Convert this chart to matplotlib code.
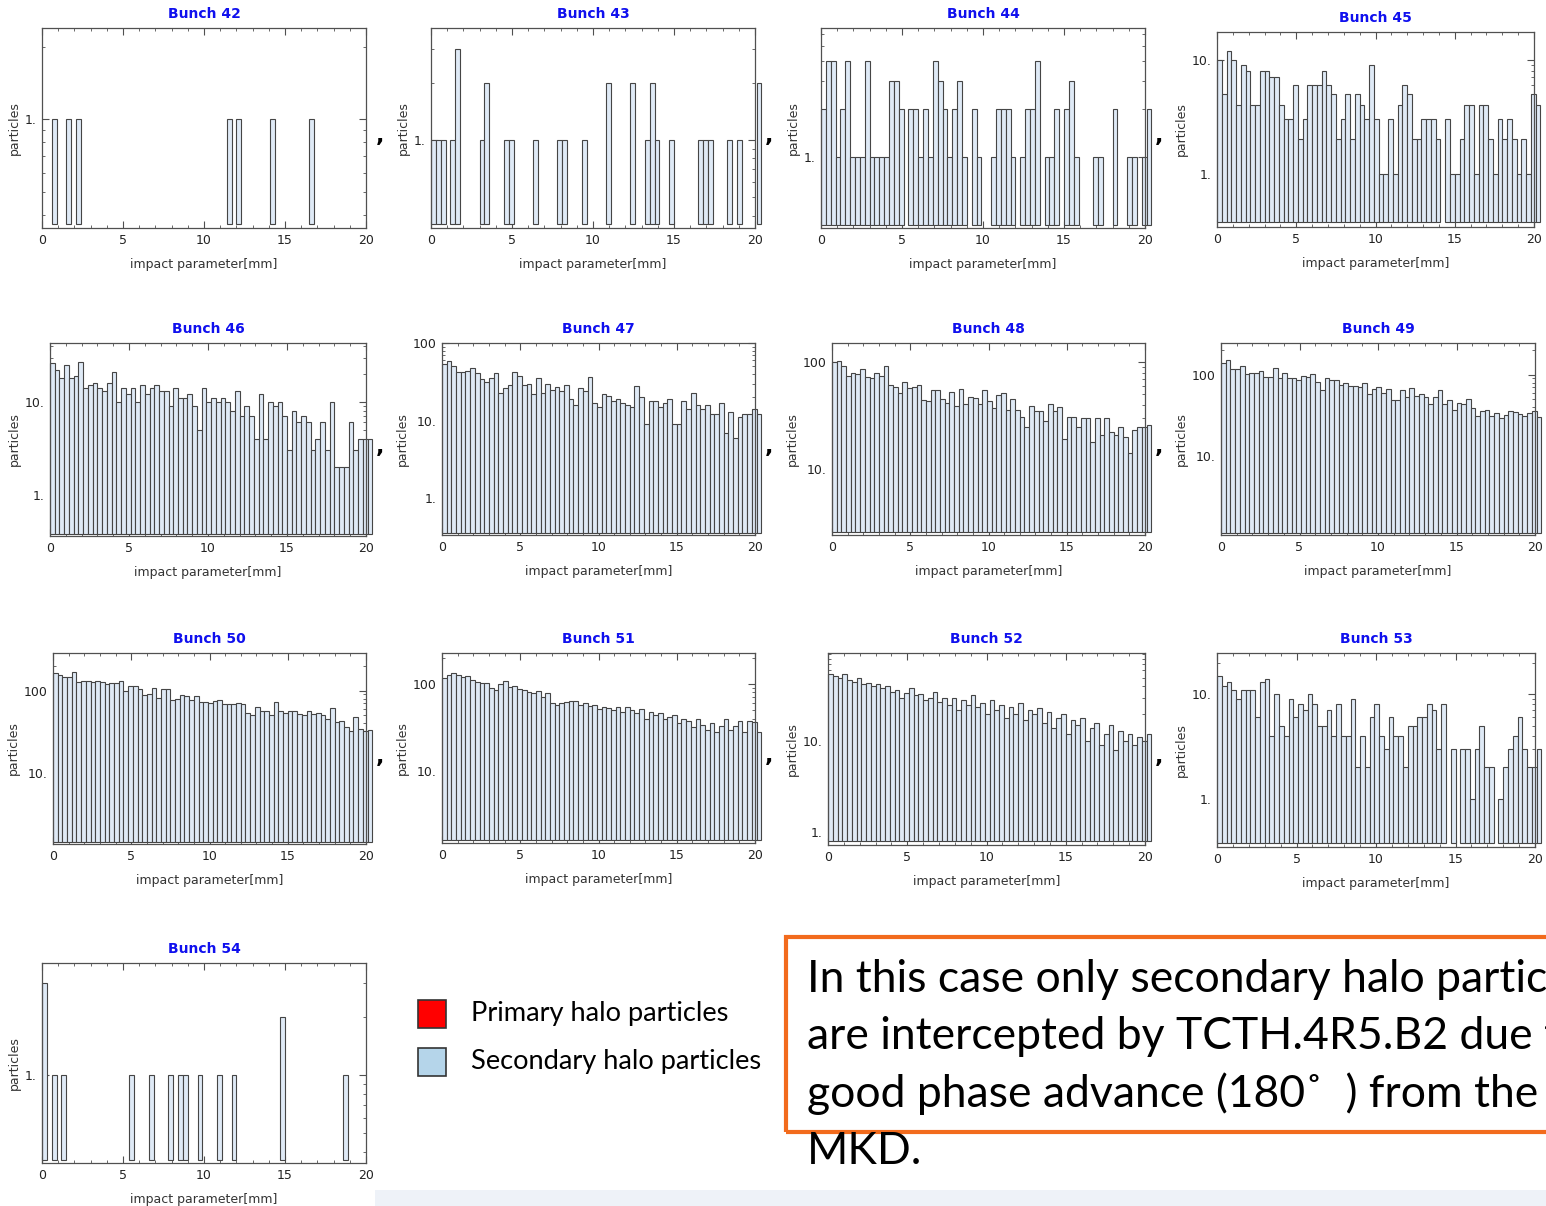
import numpy as np
import matplotlib
matplotlib.use("Agg")
import matplotlib.pyplot as plt
from matplotlib.patches import Rectangle
from matplotlib.ticker import FixedLocator, LogLocator, NullFormatter, FuncFormatter, MultipleLocator

W, H = 1546, 1206

# histogram bins: 0.3 mm wide, 0 .. 20.4 mm
bin_width = 0.3
n_bins = 68
edges = np.arange(n_bins + 1) * bin_width

bunches = [42, 43, 44, 45, 46, 47, 48, 49, 50, 51, 52, 53, 54]

b42 = [0, 0, 1, 0, 0, 1, 0, 1, 0, 0, 0, 0, 0, 0, 0, 0, 0,
       0, 0, 0, 0, 0, 0, 0, 0, 0, 0, 0, 0, 0, 0, 0, 0, 0,
       0, 0, 0, 0, 1, 0, 1, 0, 0, 0, 0, 0, 0, 1, 0, 0, 0,
       0, 0, 0, 0, 1, 0, 0, 0, 0, 0, 0, 0, 0, 0, 0, 0, 0]
b43 = [1, 1, 1, 0, 1, 3, 0, 0, 0, 0, 1, 2, 0, 0, 0, 1, 1,
       0, 0, 0, 0, 1, 0, 0, 0, 0, 1, 1, 0, 0, 0, 1, 0, 0,
       0, 0, 2, 0, 0, 0, 0, 2, 0, 0, 1, 2, 1, 0, 0, 1, 0,
       0, 0, 0, 0, 1, 1, 1, 0, 0, 0, 1, 0, 1, 0, 0, 0, 2]
b44 = [2, 4, 4, 1, 2, 4, 1, 1, 1, 4, 1, 1, 1, 1, 3, 3, 2,
       0, 2, 2, 1, 2, 1, 4, 3, 2, 1, 2, 3, 1, 0, 2, 1, 0,
       0, 1, 2, 2, 2, 1, 0, 1, 2, 2, 4, 0, 1, 1, 2, 0, 2,
       3, 1, 0, 0, 0, 1, 1, 0, 0, 2, 0, 0, 1, 1, 0, 1, 2]
b45 = [10, 5, 12, 10, 4, 9, 8, 4, 4, 8, 8, 7, 7, 4, 3, 3, 6,
       2, 3, 6, 6, 6, 8, 6, 5, 2, 3, 5, 2, 5, 4, 3, 9, 3,
       1, 1, 3, 1, 4, 6, 5, 2, 2, 3, 3, 3, 2, 0, 3, 1, 1,
       2, 4, 4, 1, 4, 4, 2, 1, 3, 2, 3, 2, 1, 2, 1, 5, 4]
b46 = [26, 22, 18, 25, 18, 19, 27, 14, 15, 16, 14, 13, 16, 21, 10, 14, 12,
       14, 10, 15, 12, 14, 15, 13, 13, 9, 14, 11, 11, 12, 9, 5, 14, 10,
       11, 10, 11, 10, 8, 13, 7, 9, 7, 4, 12, 4, 10, 9, 10, 7, 3,
       8, 6, 7, 6, 3, 4, 6, 3, 10, 2, 2, 2, 6, 3, 4, 4, 4]
b47 = [53, 58, 51, 42, 42, 44, 48, 41, 34, 31, 35, 41, 23, 26, 29, 42, 38,
       29, 30, 22, 35, 23, 30, 25, 27, 24, 29, 19, 16, 26, 24, 36, 17, 15,
       22, 21, 18, 19, 17, 16, 15, 28, 20, 9, 18, 18, 15, 17, 19, 9, 9,
       18, 14, 23, 16, 14, 16, 12, 12, 17, 7, 13, 6, 11, 12, 12, 14, 12]
b48 = [100, 104, 92, 75, 79, 77, 86, 73, 71, 79, 75, 92, 61, 59, 52, 65, 58,
       59, 61, 44, 43, 55, 55, 45, 42, 53, 39, 56, 41, 47, 46, 41, 55, 43,
       37, 49, 52, 36, 45, 36, 31, 25, 39, 35, 35, 28, 41, 35, 38, 19, 31,
       31, 25, 30, 30, 18, 30, 21, 30, 22, 21, 25, 20, 14, 23, 25, 25, 26]
b49 = [140, 150, 117, 117, 128, 103, 105, 105, 112, 94, 94, 120, 92, 106, 92, 90, 87,
       96, 93, 103, 82, 65, 90, 86, 85, 74, 80, 73, 73, 70, 78, 57, 66, 70,
       59, 66, 49, 49, 64, 53, 68, 55, 57, 53, 44, 53, 64, 44, 49, 37, 45,
       43, 50, 39, 31, 36, 37, 31, 34, 29, 32, 36, 35, 33, 31, 34, 36, 30]
b50 = [165, 155, 148, 148, 168, 128, 132, 132, 128, 130, 128, 120, 125, 126, 130, 98, 114,
       114, 104, 88, 92, 107, 82, 104, 106, 78, 80, 88, 87, 78, 86, 73, 73, 70,
       75, 78, 68, 68, 68, 70, 68, 54, 51, 64, 57, 57, 50, 72, 56, 53, 56,
       56, 52, 50, 57, 52, 54, 50, 45, 62, 42, 43, 36, 32, 48, 34, 32, 33]
b51 = [118, 128, 135, 128, 120, 122, 110, 105, 104, 103, 90, 85, 100, 108, 92, 96, 88,
       86, 80, 78, 84, 70, 78, 60, 58, 60, 62, 63, 63, 58, 60, 56, 58, 52,
       55, 53, 50, 55, 48, 54, 50, 47, 52, 40, 48, 44, 46, 40, 42, 44, 36,
       40, 38, 32, 40, 34, 30, 36, 28, 33, 40, 30, 33, 38, 28, 38, 37, 28]
b52 = [55, 52, 50, 55, 47, 45, 50, 42, 44, 40, 42, 38, 40, 35, 36, 30, 34,
       38, 32, 33, 28, 30, 35, 27, 30, 25, 30, 22, 28, 25, 32, 24, 26, 20,
       28, 22, 25, 18, 24, 20, 26, 17, 22, 20, 23, 16, 21, 14, 18, 20, 12,
       17, 15, 18, 10, 14, 16, 9, 12, 15, 8, 13, 10, 12, 9, 11, 10, 12]
b53 = [15, 12, 13, 11, 9, 11, 11, 11, 6, 13, 14, 4, 10, 5, 4, 9, 6,
       8, 7, 10, 8, 5, 5, 7, 4, 8, 4, 4, 9, 2, 4, 2, 6, 8,
       4, 3, 6, 4, 4, 2, 5, 5, 6, 6, 8, 7, 3, 8, 0, 3, 0,
       3, 3, 1, 3, 5, 2, 2, 0, 1, 2, 3, 4, 6, 3, 2, 2, 3]
b54 = [3, 0, 1, 0, 1, 0, 0, 0, 0, 0, 0, 0, 0, 0, 0, 0, 0,
       0, 1, 0, 0, 0, 1, 0, 0, 0, 1, 0, 1, 1, 0, 0, 1, 0,
       0, 0, 1, 0, 0, 1, 0, 0, 0, 0, 0, 0, 0, 0, 0, 2, 0,
       0, 0, 0, 0, 0, 0, 0, 0, 0, 0, 0, 1, 0, 0, 0, 0, 0]

counts = [b42, b43, b44, b45, b46, b47, b48, b49, b50, b51, b52, b53, b54]

# frame boxes in pixels (x0, y0, x1, y1) and log y ranges (lo, hi, bar base)
frames = [(42, 28, 366, 228), (431, 28, 755, 228), (821, 28, 1145, 228), (1217, 32, 1534, 227),
          (50, 343, 366, 536), (442, 343, 755, 535), (832, 343, 1145, 535), (1221, 343, 1535, 535),
          (53, 653, 366, 844), (442, 653, 755, 843), (828, 653, 1145, 845), (1217, 653, 1535, 847),
          (42, 963, 366, 1163)]
yranges = [(0.353, 2.39, 0.367), (0.344, 3.88, 0.361), (0.354, 6.5, 0.37), (0.34, 17.5, 0.376),
           (0.358, 43, 0.38), (0.335, 100, 0.36), (2.4, 152, 2.55), (1.05, 246, 1.12),
           (1.34, 289, 1.43), (1.49, 227, 1.6), (0.72, 93, 0.8), (0.344, 24.9, 0.376),
           (0.35, 3.82, 0.364)]

face = '#dfeaf6'
edge = '#454545'
frame_col = '#505050'


def ytick_label(v, pos):
    if abs(v - 1) < 1e-9:
        return '1.'
    if abs(v - 10) < 1e-9:
        return '10.'
    if abs(v - 100) < 1e-9:
        return '100'
    return ''


fig = plt.figure(figsize=(W / 100, H / 100), dpi=100)
fig.patch.set_facecolor('white')

# faint slide background strip at the bottom
fig.add_artist(Rectangle((0, 0), 1, 16 / H, transform=fig.transFigure,
                         facecolor='#eef2f8', edgecolor='none', zorder=0))
fig.add_artist(Rectangle((0, 0), 375 / W, 16 / H, transform=fig.transFigure,
                         facecolor='white', edgecolor='none', zorder=0))

for name, c, (x0, y0, x1, y1), (lo, hi, base) in zip(bunches, counts, frames, yranges):
    ax = fig.add_axes([x0 / W, 1 - y1 / H, (x1 - x0) / W, (y1 - y0) / H])
    c = np.array(c, dtype=float)
    m = c > 0
    ax.bar(edges[:-1][m], c[m] - base, width=bin_width, bottom=base, align='edge',
           color=face, edgecolor=edge, linewidth=0.8, clip_on=False, zorder=2)
    ax.set_yscale('log')
    ax.set_xlim(0, 20)
    ax.set_ylim(lo, hi)
    ax.xaxis.set_major_locator(FixedLocator([0, 5, 10, 15, 20]))
    ax.xaxis.set_minor_locator(MultipleLocator(1))
    ax.yaxis.set_major_locator(FixedLocator([1, 10, 100]))
    ax.yaxis.set_minor_locator(LogLocator(base=10, subs=np.arange(2, 10), numticks=20))
    ax.yaxis.set_major_formatter(FuncFormatter(ytick_label))
    ax.yaxis.set_minor_formatter(NullFormatter())
    ax.tick_params(which='both', direction='in', top=True, right=True, color=frame_col,
                   labelsize=9, labelcolor='#222222', pad=4)
    ax.tick_params(which='major', length=5, width=0.8)
    ax.tick_params(which='minor', length=2.5, width=0.6)
    for s in ax.spines.values():
        s.set_color(frame_col)
        s.set_linewidth(0.9)
    ax.set_title('Bunch %d' % name, color='#1010ee', fontsize=10, fontweight='bold', pad=7)
    ax.set_xlabel('impact parameter[mm]', fontsize=9, color='#333333', labelpad=8)
    ax.set_ylabel('particles', fontsize=9, color='#333333', labelpad=3)
    if name not in (45, 49, 53, 54):
        fig.text((x1 + 14) / W, 1 - ((y0 + y1) / 2 + 8) / H, ',', fontsize=16,
                 fontweight='bold', color='black', ha='center', va='center')

# legend
fig.add_artist(Rectangle((418 / W, 1 - 1028 / H), 28 / W, 28 / H, transform=fig.transFigure,
                         facecolor='#ff0000', edgecolor='#333333', lw=1.2))
fig.add_artist(Rectangle((418 / W, 1 - 1076 / H), 28 / W, 28 / H, transform=fig.transFigure,
                         facecolor='#b5d5ea', edgecolor='#333333', lw=1.2))
fig.text(471 / W, 1 - 1014 / H, 'Primary halo particles', fontsize=19.6, family='Lato',
         va='center', ha='left')
fig.text(471 / W, 1 - 1062 / H, 'Secondary halo particles', fontsize=19.6, family='Lato',
         va='center', ha='left')

# note box (runs off the right edge, as on the slide)
fig.add_artist(Rectangle((786 / W, 1 - 1132 / H), 800 / W, 195 / H, transform=fig.transFigure,
                         fill=False, edgecolor='#f26b1d', lw=3))
note = ['In this case only secondary halo particles',
        'are intercepted by TCTH.4R5.B2 due to',
        'good phase advance (180\u02da  ) from the',
        'MKD.']
for i, line in enumerate(note):
    fig.text(807 / W, 1 - (979 + 57.5 * i) / H, line, fontsize=32, family='Lato',
             va='center', ha='left', color='black')

fig.savefig('out.png', dpi=100)
